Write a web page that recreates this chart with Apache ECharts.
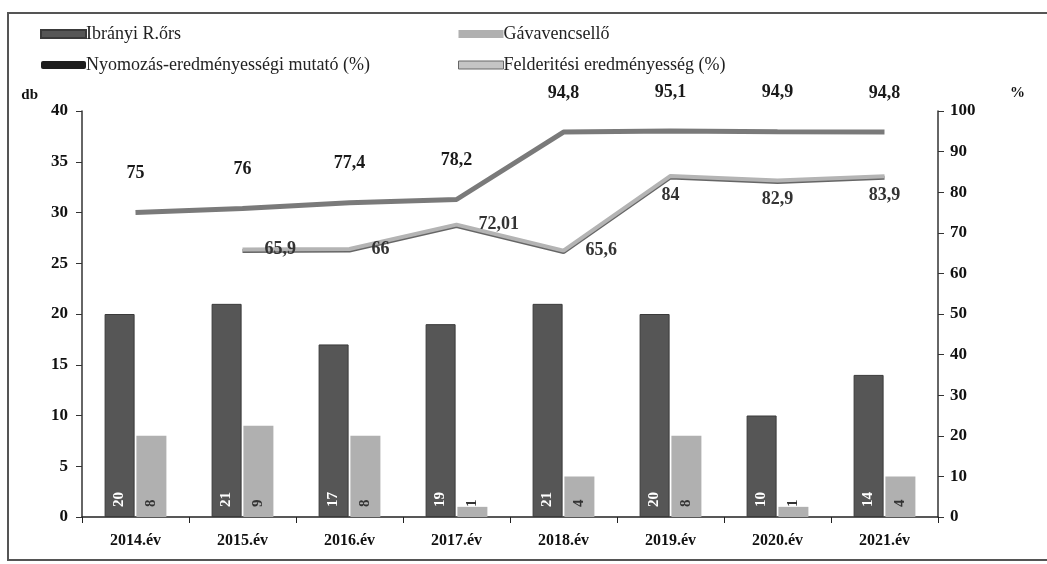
<!DOCTYPE html>
<html lang="hu">
<head>
  <meta charset="UTF-8">
  <title>chart</title>
  <script src="https://cdn.jsdelivr.net/npm/echarts@6/dist/echarts.min.js"></script>
  <style>
    html, body { margin: 0; padding: 0; background: #fff; }
  </style>
</head>
<body>
  <div id="main" style="width: 1047px;height: 564px;"></div>

  <script type="text/javascript">
    var years = ['2014.év', '2015.év', '2016.év', '2017.év', '2018.év', '2019.év', '2020.év', '2021.év']
    var ibranyi = [20, 21, 17, 19, 21, 20, 10, 14]
    var gava = [8, 9, 8, 1, 4, 8, 1, 4]
    var nyomozas = [75, 76, 77.4, 78.2, 94.8, 95.1, 94.9, 94.8]
    var felderitesi = [null, 65.9, 66, 72.01, 65.6, 84, 82.9, 83.9]
    var leftTicks = [0, 40, 5]
    var rightTicks = [0, 100, 10]

    var serif = '"Liberation Serif", "DejaVu Serif", serif'
    function comma(v) { return String(v).replace('.', ',') }

    var myChart = echarts.init(document.getElementById('main'))

    myChart.setOption({
      backgroundColor: '#fff',
      textStyle: { fontFamily: serif },
      graphic: [{
        type: 'rect',
        shape: { x: 8, y: 13, width: 1050, height: 547 },
        style: { fill: 'none', stroke: '#555', lineWidth: 2 },
        silent: true
      }],
      legend: [{
        left: 35, top: 20, orient: 'vertical', itemGap: 13,
        itemWidth: 45, itemHeight: 8,
        textStyle: { fontFamily: serif, fontSize: 18, color: '#222', padding: [0, 0, 0, -5] },
        data: [
          { name: 'Ibrányi R.őrs', icon: 'rect' },
          { name: 'Nyomozás-eredményességi mutató (%)', icon: 'roundRect', itemStyle: { color: '#1e1e1e' } }
        ]
      }, {
        left: 453, top: 20, orient: 'vertical', itemGap: 13,
        itemWidth: 45, itemHeight: 8,
        textStyle: { fontFamily: serif, fontSize: 18, color: '#222', padding: [0, 0, 0, -5] },
        data: [
          { name: 'Gávavencsellő', icon: 'rect' },
          { name: 'Felderitési eredményesség (%)', icon: 'rect', itemStyle: { color: '#c4c4c4', borderColor: '#666', borderWidth: 1 } }
        ]
      }],
      grid: { left: 82, right: 109, top: 111, bottom: 47 },
      xAxis: {
        type: 'category',
        data: years,
        axisLine: { lineStyle: { color: '#222', width: 1.5 } },
        axisTick: { show: true, length: 6, lineStyle: { color: '#222' } },
        axisLabel: { fontFamily: serif, fontWeight: 'bold', fontSize: 16, color: '#111', margin: 16 }
      },
      yAxis: [{
        type: 'value',
        min: leftTicks[0], max: leftTicks[1], interval: leftTicks[2],
        name: 'db',
        nameGap: 8,
        nameTextStyle: { fontFamily: serif, fontWeight: 'bold', fontSize: 15, color: '#111', align: 'right', padding: [0, 44, 0, 0] },
        axisLine: { show: true, lineStyle: { color: '#333', width: 1.5 } },
        axisTick: { show: true, length: 6, lineStyle: { color: '#333' } },
        splitLine: { show: false },
        axisLabel: { fontFamily: serif, fontWeight: 'bold', fontSize: 17, color: '#111', margin: 14 }
      }, {
        type: 'value',
        min: rightTicks[0], max: rightTicks[1], interval: rightTicks[2],
        name: '%',
        nameGap: 10,
        nameTextStyle: { fontFamily: serif, fontWeight: 'bold', fontSize: 15, color: '#111', align: 'left', padding: [0, 0, 0, 72] },
        axisLine: { show: true, lineStyle: { color: '#333', width: 1.5 } },
        axisTick: { show: true, length: 6, lineStyle: { color: '#333' } },
        splitLine: { show: false },
        axisLabel: { fontFamily: serif, fontWeight: 'bold', fontSize: 17, color: '#111', margin: 12 }
      }],
      series: [{
        name: 'Ibrányi R.őrs',
        type: 'bar',
        data: ibranyi,
        barWidth: 30,
        barGap: '6%',
        itemStyle: { color: '#565656', borderColor: '#3a3a3a', borderWidth: 1 },
        label: {
          show: true, position: 'insideBottom', rotate: 90, align: 'left', verticalAlign: 'middle',
          distance: 10, fontFamily: serif, fontWeight: 'bold', fontSize: 15, color: '#fff'
        }
      }, {
        name: 'Gávavencsellő',
        type: 'bar',
        data: gava,
        barWidth: 30,
        itemStyle: { color: '#b0b0b0' },
        label: {
          show: true, position: 'insideBottom', rotate: 90, align: 'left', verticalAlign: 'middle',
          distance: 10, fontFamily: serif, fontWeight: 'bold', fontSize: 15, color: '#333'
        }
      }, {
        name: 'Nyomozás-eredményességi mutató (%)',
        type: 'line',
        yAxisIndex: 1,
        data: nyomozas,
        symbol: 'circle',
        symbolSize: 0.1,
        lineStyle: { color: '#7a7a7a', width: 5 },
        itemStyle: { color: '#7a7a7a' },
        label: {
          show: true, position: 'top', distance: 30,
          fontFamily: serif, fontWeight: 'bold', fontSize: 18, color: '#1a1a1a',
          formatter: function (p) { return comma(p.value) }
        },
        z: 3
      }, {
        name: 'Felderitési eredményesség (%)',
        type: 'line',
        yAxisIndex: 1,
        data: felderitesi.map(function (v, i) {
          return { value: v, label: { position: i < 5 ? 'right' : 'bottom', distance: i < 5 ? 22 : 10 } }
        }),
        symbol: 'circle',
        symbolSize: 0.1,
        lineStyle: { color: '#b4b4b4', width: 4, shadowColor: 'rgba(0,0,0,0.6)', shadowOffsetY: 1.5, shadowBlur: 0 },
        itemStyle: { color: '#b4b4b4' },
        label: {
          show: true,
          fontFamily: serif, fontWeight: 'bold', fontSize: 18, color: '#333',
          formatter: function (p) { return comma(p.value) }
        },
        z: 4
      }]
    })
  </script>
</body>
</html>
